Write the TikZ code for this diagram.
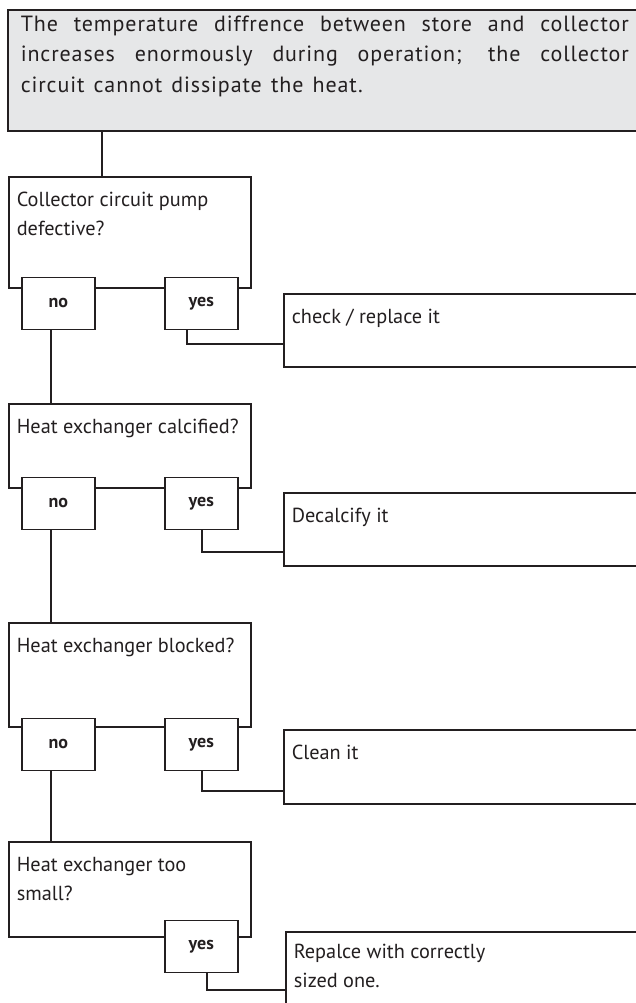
\documentclass[tikz,border=0pt]{standalone}
\usepackage{fontspec}
\setmainfont{PT Sans}
\usepackage{xcolor}
\usetikzlibrary{positioning}
\definecolor{myline}{RGB}{35,31,32}
\definecolor{mygray}{RGB}{230,231,232}
\newcommand{\boxtext}[4][15pt]{\parbox[c][#2][t]{#3}{\vspace*{#1}\raggedright #4}}

\begin{document}
\begin{tikzpicture}[x=1pt,y=-1pt,color=myline,line width=1.6pt,
    every node/.style={font=\fontsize{20.3}{29}\selectfont},
    topbox/.style={draw,fill=mygray,anchor=north west,inner xsep=13pt,inner ysep=0pt,
      font=\fontsize{22}{30.5}\selectfont\addfontfeature{LetterSpace=4}},
    qbox/.style={draw,fill=white,anchor=north west,inner xsep=8pt,inner ysep=0pt},
    ansbox/.style={draw,fill=white,anchor=north west,inner xsep=8pt,inner ysep=0pt},
    ynbox/.style={draw,fill=white,anchor=north west,minimum width=73pt,minimum height=52pt,
      inner sep=0pt,font=\fontsize{18}{20}\selectfont\bfseries}]
        \clip (0,0) rectangle (636,1003);
        % problem
        \node[topbox] (top) at (7,9) {\boxtext[6pt]{121pt}{608pt}{%
          \makebox[608pt][s]{The temperature diffrence between store and collector}\\
          \makebox[608pt][s]{increases enormously during operation; the collector}\\
          \makebox[342pt][s]{circuit cannot dissipate the heat.}}};
        % questions
        \node[qbox] (q1) at (8,176) {\boxtext{111pt}{226pt}{Collector circuit pump\\defective?}};
        \node[qbox] (q2) at (8,403) {\boxtext{84pt}{226pt}{\mbox{Heat exchanger calcified?}}};
        \node[qbox] (q3) at (8,622) {\boxtext{104pt}{226pt}{\mbox{Heat exchanger blocked?}}};
        \node[qbox] (q4) at (8,841) {\boxtext{95pt}{226pt}{Heat exchanger too\\small?}};
        % answers
        \node[ynbox] (no1) at ([xshift=13pt,yshift=12pt]q1.south west) {no};
        \node[ynbox] (yes1) at ([xshift=156pt,yshift=12pt]q1.south west) {yes};
        \node[ynbox] (no2) at ([xshift=13pt,yshift=12pt]q2.south west) {no};
        \node[ynbox] (yes2) at ([xshift=156pt,yshift=12pt]q2.south west) {yes};
        \node[ynbox] (no3) at ([xshift=13pt,yshift=10pt]q3.south west) {no};
        \node[ynbox] (yes3) at ([xshift=156pt,yshift=10pt]q3.south west) {yes};
        \node[ynbox] (yes4) at ([xshift=156pt,yshift=18pt]q4.south west) {yes};
        % remedies
        \node[ansbox] (a1) at (283,293) {\boxtext{73pt}{361pt}{check / replace it}};
        \node[ansbox] (a2) at (283,492) {\boxtext{73pt}{361pt}{Decalcify it}};
        \node[ansbox] (a3) at (283,729) {\boxtext{74pt}{361pt}{Clean it}};
        \node[ansbox] (a4) at (285,931) {\boxtext[12pt]{90pt}{361pt}{Repalce with correctly\\sized one.}};
        % connectors
        \draw ([xshift=95pt]top.south west) -- ([xshift=94pt]q1.north west);
        \draw ([xshift=30pt]no1.south west) -- ([xshift=43pt]q2.north west);
        \draw ([xshift=30pt]no2.south west) -- ([xshift=43pt]q3.north west);
        \draw ([xshift=30pt]no3.south west) -- ([xshift=43pt]q4.north west);
        \draw ([xshift=23pt]yes1.south west) |- ([yshift=-51pt]a1.north west);
        \draw ([xshift=38pt]yes2.south west) |- ([yshift=-60pt]a2.north west);
        \draw ([xshift=38pt]yes3.south west) |- ([yshift=-62pt]a3.north west);
        \draw ([xshift=43pt]yes4.south west) |- ([yshift=-59pt]a4.north west);
      \end{tikzpicture}
\end{document}
